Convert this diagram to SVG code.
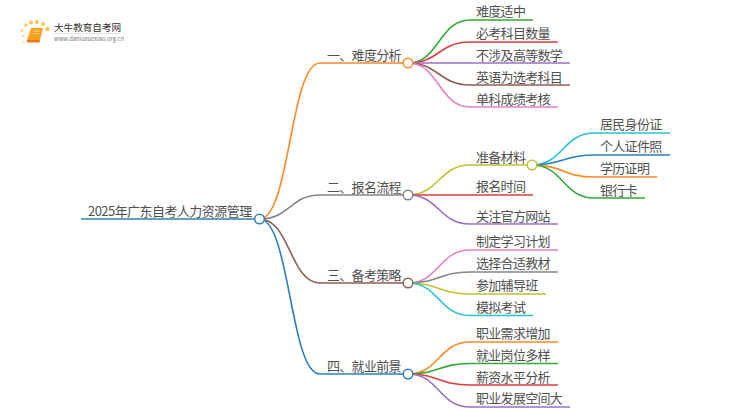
<svg xmlns="http://www.w3.org/2000/svg" width="750" height="410" viewBox="0 0 750 410">
<style>
text{font-family:"Noto Sans CJK SC","Noto Sans",sans-serif;font-size:13px;letter-spacing:-.7px;fill:#505050}
.c path{fill:none;stroke-width:1.6}
circle{fill:#fff;stroke-width:1.5}
.blue{stroke:#2b80bd}.orange{stroke:#ff8a26}.green{stroke:#35a835}.red{stroke:#dc3a3b}.purple{stroke:#9a6fc2}.brown{stroke:#8f5f54}.pink{stroke:#e77fc8}.gray{stroke:#858585}.olive{stroke:#c0c130}.cyan{stroke:#28c2d2}
.dot{fill:#fbc65a;stroke:none}
</style>
<rect width="750" height="410" fill="#fff"/>
<g id="logo">
<circle class="dot" cx="26" cy="25" r="1.8"/><circle class="dot" cx="31" cy="22.500" r="2"/><circle class="dot" cx="37" cy="22" r="2"/><circle class="dot" cx="43" cy="24" r="2"/><circle class="dot" cx="47.500" cy="29" r="2.300"/>
<circle class="dot" cx="22" cy="30.500" r="1.500" opacity=".7"/><circle class="dot" cx="23.500" cy="36" r="1.300" opacity=".6"/><circle class="dot" cx="23.500" cy="42" r="1.200" opacity=".5"/>
<path d="M31 28H43L40 40H27Z" fill="#f9a11b"/>
<path d="M27 40H40L39.500 42.500H28Q26 42 27 40Z" fill="#e8791a"/>
<path d="M33 31H40M32.500 33.500H39" stroke="#fde2a8" stroke-width=".8" fill="none"/>
<text x="54" y="31" style="font-size:9.600px;letter-spacing:0;fill:#333">大牛教育自考网</text>
<path d="M54 33.500H120" stroke="#ddd" stroke-width=".8"/>
<text x="54" y="41" style="font-size:5.800px;letter-spacing:0;fill:#777">www.daniuxuexiao.org.cn</text>
</g>
<g id="connectors" class="c">
<path class="blue" d="M81 219H254"/>
<path class="orange" d="M259.500 219C290 219 290 63 320 63H403"/>
<path class="gray" d="M259.500 219C290 219 290 195 320 195H403"/>
<path class="brown" d="M259.500 219C290 219 290 283 320 283H403"/>
<path class="blue" d="M259.500 219C290 219 290 374 320 374H403"/>
<path class="green" d="M408 63C439 63 439 20 470 20H533"/>
<path class="red" d="M408 63C439 63 439 42 470 42H558"/>
<path class="purple" d="M408 63H570"/>
<path class="brown" d="M408 63C439 63 439 85 470 85H570"/>
<path class="pink" d="M408 63C439 63 439 107 470 107H558"/>
<path class="olive" d="M408 195C439 195 439 165 470 165H527"/>
<path class="red" d="M408 195H533"/>
<path class="purple" d="M408 195C439 195 439 224 470 224H558"/>
<path class="cyan" d="M532 165C563 165 563 133 594 133H670"/>
<path class="blue" d="M532 165C563 165 563 155 594 155H670"/>
<path class="orange" d="M532 165C563 165 563 177 594 177H657"/>
<path class="green" d="M532 165C563 165 563 198 594 198H645"/>
<path class="pink" d="M408 283C439 283 439 250 470 250H558"/>
<path class="gray" d="M408 283C439 283 439 272 470 272H558"/>
<path class="olive" d="M408 283C439 283 439 294 470 294H546"/>
<path class="cyan" d="M408 283C439 283 439 315.500 470 315.500H533"/>
<path class="orange" d="M408 374C439 374 439 342 470 342H558"/>
<path class="green" d="M408 374C439 374 439 363.500 470 363.500H558"/>
<path class="red" d="M408 374C439 374 439 385 470 385H558"/>
<path class="purple" d="M408 374C439 374 439 407 470 407H570"/>
</g>
<g id="root"><text x="88" y="216" style="letter-spacing:-.55px">2025年广东自考人力资源管理</text><circle class="blue" cx="259.500" cy="219" r="4.800"/></g>
<g id="n1"><text x="327" y="60">一、难度分析</text><circle class="orange" cx="408" cy="63" r="4.800"/></g>
<g id="n1-1"><text x="476" y="16">难度适中</text></g>
<g id="n1-2"><text x="476" y="38">必考科目数量</text></g>
<g id="n1-3"><text x="476" y="60">不涉及高等数学</text></g>
<g id="n1-4"><text x="476" y="82">英语为选考科目</text></g>
<g id="n1-5"><text x="476" y="104">单科成绩考核</text></g>
<g id="n2"><text x="327" y="192">二、报名流程</text><circle class="gray" cx="408" cy="195" r="4.800"/></g>
<g id="n2-1"><text x="476" y="162">准备材料</text><circle class="olive" cx="532" cy="165" r="4.800"/></g>
<g id="n2-1-1"><text x="600" y="129">居民身份证</text></g>
<g id="n2-1-2"><text x="600" y="151">个人证件照</text></g>
<g id="n2-1-3"><text x="600" y="173">学历证明</text></g>
<g id="n2-1-4"><text x="600" y="195">银行卡</text></g>
<g id="n2-2"><text x="476" y="191">报名时间</text></g>
<g id="n2-3"><text x="476" y="221">关注官方网站</text></g>
<g id="n3"><text x="327" y="280">三、备考策略</text><circle class="brown" cx="408" cy="283" r="4.800"/></g>
<g id="n3-1"><text x="476" y="246">制定学习计划</text></g>
<g id="n3-2"><text x="476" y="268">选择合适教材</text></g>
<g id="n3-3"><text x="476" y="290">参加辅导班</text></g>
<g id="n3-4"><text x="476" y="312">模拟考试</text></g>
<g id="n4"><text x="327" y="371">四、就业前景</text><circle class="blue" cx="408" cy="374" r="4.800"/></g>
<g id="n4-1"><text x="476" y="338">职业需求增加</text></g>
<g id="n4-2"><text x="476" y="360">就业岗位多样</text></g>
<g id="n4-3"><text x="476" y="382">薪资水平分析</text></g>
<g id="n4-4"><text x="476" y="403">职业发展空间大</text></g>
</svg>
